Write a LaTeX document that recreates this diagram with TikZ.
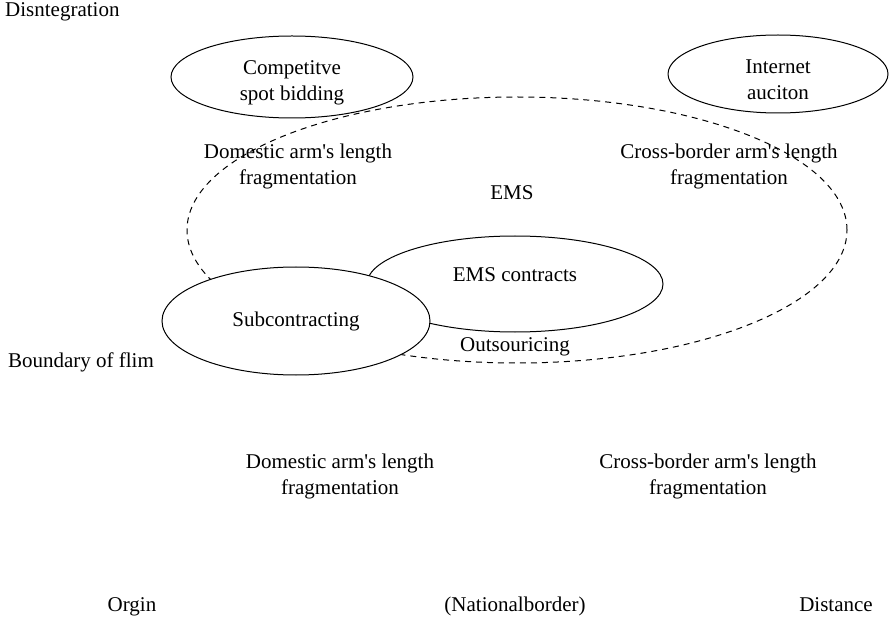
\documentclass[tikz,border=0pt]{standalone}
\usepackage{fontspec}
\setmainfont{Liberation Serif}
\usepackage{tikz}
\usetikzlibrary{shapes.geometric, positioning}
\newcommand{\padtop}{\rule{0pt}{25pt}}
\newcommand{\armq}{arm\textquotesingle s}

\begin{document}
\begin{tikzpicture}[
    x=1pt, y=-1pt,
    every node/.style={font=\fontsize{21}{26}\selectfont, align=center},
    oval/.style={ellipse, draw=black, fill=white, line width=1pt, inner sep=0pt},
    region/.style={ellipse, draw=black, dash pattern=on 6pt off 5pt, line width=1pt, inner sep=0pt},
    plain/.style={inner sep=0pt}
]
\useasboundingbox (0,0) rectangle (894,620);

% Dashed EMS region
\node[region, minimum width=660pt, minimum height=266pt] at (517,230) (ems-region) {};

% Upper ovals
\node[oval, minimum width=242pt, minimum height=82pt] at (292,77) (spot) {\padtop Competitve\\spot bidding};
\node[oval, minimum width=220pt, minimum height=78pt] at (778,74) (auction) {\padtop Internet\\auciton};

% Inner ovals
\node[oval, minimum width=296pt, minimum height=96pt] at (515,284) (contracts) {EMS contracts\\[-8pt]};
\node[oval, minimum width=268pt, minimum height=108pt] at (296,321) (subcon) {Subcontracting};

% Labels
\node[plain, anchor=west] at (5,12) (disint) {Disntegration};
\node[plain] at (298,166) (dom-top) {Domestic \armq{} length\\fragmentation};
\node[plain] at (729,166) (cross-top) {Cross-border \armq{} length\\fragmentation};
\node[plain] at (512,193) (ems) {EMS};
\node[plain] at (515,347) (outsrc) {Outsouricing};
\node[plain] at (81,362) (boundary) {Boundary of flim};
\node[plain] at (340,476) (dom-low) {Domestic \armq{} length\\fragmentation};
\node[plain] at (708,476) (cross-low) {Cross-border \armq{} length\\fragmentation};

% Axis labels
\node[plain, anchor=base] at (132,611) (origin) {Orgin};
\node[plain, anchor=base] at (515,611) (border) {(Nationalborder)};
\node[plain, anchor=base] at (836,611) (distance) {Distance};

\end{tikzpicture}
\end{document}
